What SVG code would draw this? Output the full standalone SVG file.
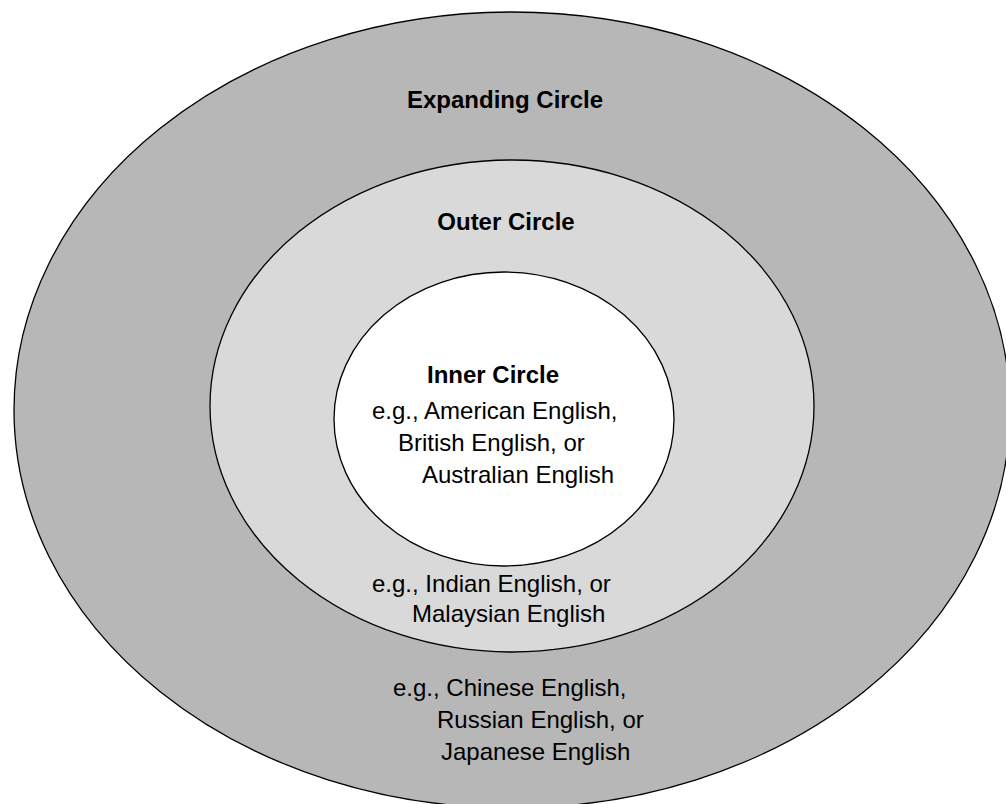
<svg xmlns="http://www.w3.org/2000/svg" width="1006" height="804" viewBox="0 0 1006 804">
<style>
.ring{stroke:#000;stroke-width:1.3}
.t{font-family:"Liberation Sans",Arial,sans-serif;font-size:24px;fill:#000}
.b{font-weight:bold}
</style>
<rect width="1006" height="804" fill="#fff"/>
<g id="expanding">
<ellipse class="ring" cx="512" cy="410" rx="498" ry="398" fill="#b7b7b7"/>
<text class="t b" x="505" y="108" text-anchor="middle">Expanding Circle</text>
<text class="t" x="393" y="696">e.g., Chinese English,</text>
<text class="t" x="437" y="728">Russian English, or</text>
<text class="t" x="441" y="760">Japanese English</text>
</g>
<g id="outer">
<ellipse class="ring" cx="512" cy="406" rx="302" ry="246" fill="#d9d9d9"/>
<text class="t b" x="506" y="230" text-anchor="middle">Outer Circle</text>
<text class="t" x="372" y="592">e.g., Indian English, or</text>
<text class="t" x="412" y="622">Malaysian English</text>
</g>
<g id="inner">
<ellipse class="ring" cx="504" cy="419" rx="170" ry="147" fill="#fff"/>
<text class="t b" x="493" y="383" text-anchor="middle">Inner Circle</text>
<text class="t" x="372" y="419">e.g., American English,</text>
<text class="t" x="398" y="451">British English, or</text>
<text class="t" x="422" y="483">Australian English</text>
</g>
<g id="connectors"></g>
</svg>
